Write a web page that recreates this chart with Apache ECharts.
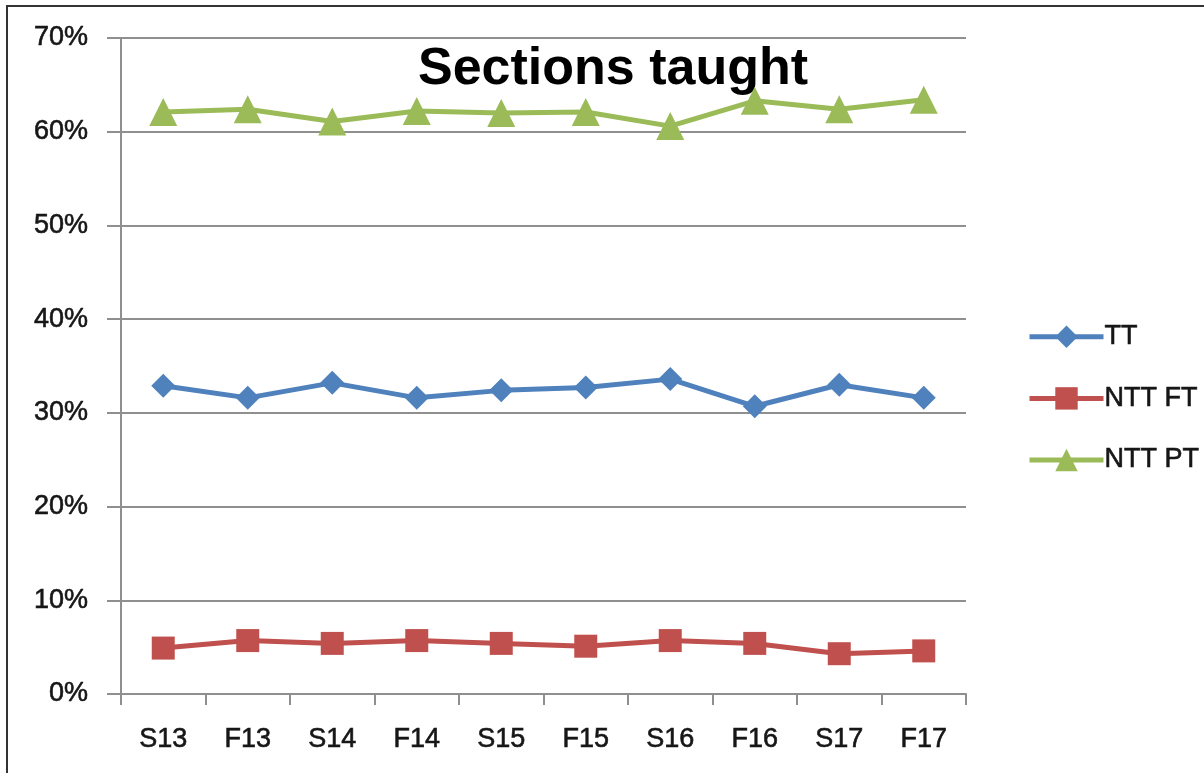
<!DOCTYPE html>
<html>
<head>
<meta charset="utf-8">
<script src="https://cdn.jsdelivr.net/npm/echarts@6/dist/echarts.min.js"></script>
<style>html,body{margin:0;padding:0;background:#fff;}#c{width:1204px;height:773px;}</style>
</head>
<body>
<div id="c"></div>
<script>
var categories = ['S13','F13','S14','F14','S15','F15','S16','F16','S17','F17'];
var tt    = [32.9, 31.6, 33.2, 31.6, 32.4, 32.7, 33.6, 30.7, 33.0, 31.6];
var nttFT = [4.9, 5.7, 5.4, 5.7, 5.4, 5.1, 5.7, 5.4, 4.3, 4.6];
var nttPT = [62.1, 62.4, 61.1, 62.2, 62.0, 62.1, 60.6, 63.3, 62.4, 63.4];
var yTicks = {min: 0, max: 70, interval: 10};
var titleText = 'Sections taught';

var chart = echarts.init(document.getElementById('c'), null, {renderer: 'canvas'});
var font = 'Liberation Sans';
var gridColor = '#8f8f8f';
var textColor = '#161616';
function series(name, data, color, symbol, size) {
  return {
    name: name, type: 'line', data: data,
    symbol: symbol, symbolSize: size,
    lineStyle: {color: color, width: 5},
    itemStyle: {color: color},
    emphasis: {disabled: true},
    animation: false
  };
}
var txt = {fontFamily: font, fontSize: 27, color: textColor, textBorderColor: textColor, textBorderWidth: 0.6};
chart.setOption({
  animation: false,
  backgroundColor: '#fff',
  grid: {left: 121, right: 238, top: 38, bottom: 79, containLabel: false},
  legend: {
    orient: 'vertical', left: 1022, top: 318,
    itemWidth: 74, itemHeight: 28, itemGap: 34,
    lineStyle: {width: 5},
    textStyle: Object.assign({}, txt, {padding: [0,0,0,-4]}),
    data: ['TT', 'NTT FT', 'NTT PT']
  },
  xAxis: {
    type: 'category', data: categories, boundaryGap: true,
    axisLine: {lineStyle: {color: gridColor, width: 2}},
    axisTick: {show: true, length: 11, inside: false, lineStyle: {color: gridColor, width: 2}},
    axisLabel: Object.assign({}, txt, {margin: 32, interval: 0}),
    splitLine: {show: false}
  },
  yAxis: {
    type: 'value', min: yTicks.min, max: yTicks.max, interval: yTicks.interval,
    axisLine: {show: true, lineStyle: {color: gridColor, width: 2}},
    axisTick: {show: true, length: 14, lineStyle: {color: gridColor, width: 2}},
    axisLabel: Object.assign({}, txt, {margin: 33, formatter: '{value}%'}),
    splitLine: {show: true, lineStyle: {color: gridColor, width: 2}}
  },
  graphic: [
    {type: 'line', shape: {x1: 7, y1: 6, x2: 1204, y2: 6}, style: {stroke: '#333', lineWidth: 2}},
    {type: 'line', shape: {x1: 7, y1: 5, x2: 7, y2: 773}, style: {stroke: '#333', lineWidth: 2}},
    {type: 'text', x: 613, y: 70, style: {text: titleText, font: 'bold 52px "Liberation Sans"', fill: '#000', textAlign: 'center', textVerticalAlign: 'middle'}}
  ],
  series: [
    series('TT', tt, '#4F81BD', 'diamond', 24),
    series('NTT FT', nttFT, '#C0504D', 'rect', 23),
    series('NTT PT', nttPT, '#9BBB59', 'triangle', 28)
  ]
});
</script>
</body>
</html>
